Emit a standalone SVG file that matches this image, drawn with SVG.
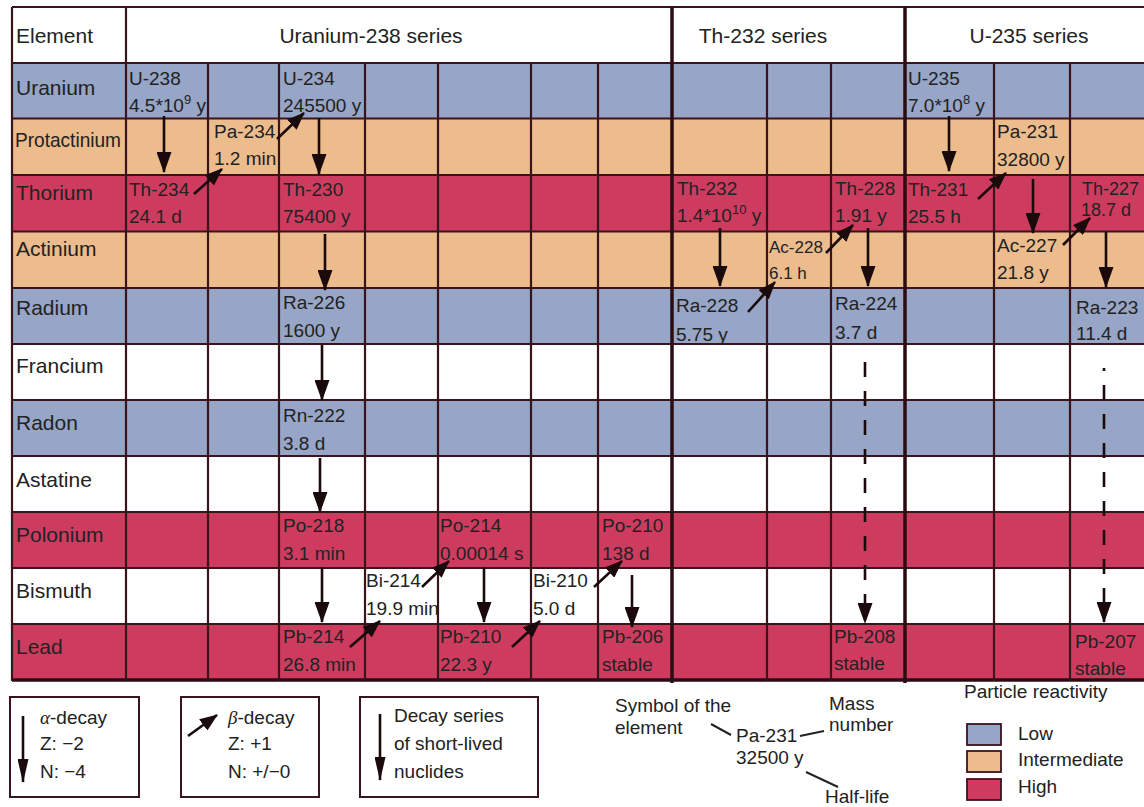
<svg xmlns="http://www.w3.org/2000/svg" width="1144" height="807" viewBox="0 0 1144 807">
<style>
  text { font-family: "Liberation Sans", Arial, sans-serif; fill: #222; }
  .hd { font-size: 21px; }
  .el { font-size: 21px; }
  .nu { font-size: 19px; }
  .sup { font-size: 13px; }
  .lg { font-size: 19px; }
  .gk { font-family: "Liberation Serif", "Times New Roman", serif; font-style: italic; }
  .low { fill: #97a5c6; }
  .mid { fill: #ecbc8c; }
  .high { fill: #cd3c5f; }
  .wh { fill: #ffffff; }
  .grid { stroke: #3a141c; stroke-width: 2.2; fill: none; }
  .thick { stroke: #2a0c12; stroke-width: 3.5; fill: none; }
  .arr { stroke: #1a0a0c; stroke-width: 2.6; fill: none; }
  .dash { stroke-dasharray: 15 14; }
  .box { fill: #fff; stroke: #3a141c; stroke-width: 2; }
  .swl { stroke: #3a141c; stroke-width: 1.8; }
  .cl { stroke: #222; stroke-width: 2; }
</style>
<defs>
  <marker id="ha" markerUnits="userSpaceOnUse" markerWidth="21" markerHeight="15" viewBox="0 0 21 15" refX="20" refY="7.5" orient="auto">
    <path d="M0,0 L21,7.5 L0,15 z" fill="#1a0a0c"/>
  </marker>
  <marker id="hb" markerUnits="userSpaceOnUse" markerWidth="18" markerHeight="14" viewBox="0 0 18 14" refX="17" refY="7" orient="auto">
    <path d="M0,0 L18,7 L0,14 z" fill="#1a0a0c"/>
  </marker>
  <marker id="hl" markerUnits="userSpaceOnUse" markerWidth="24" markerHeight="11" viewBox="0 0 24 11" refX="23" refY="5.5" orient="auto">
    <path d="M0,0 L24,5.5 L0,11 z" fill="#1a0a0c"/>
  </marker>
</defs>

<rect width="1144" height="807" fill="#ffffff"/>

<!-- row backgrounds -->
<g id="rows">
  <rect class="wh" x="12" y="7" width="1132" height="56"/>
  <rect class="low" x="12" y="63" width="1132" height="55.5"/>
  <rect class="mid" x="12" y="118.5" width="1132" height="56.5"/>
  <rect class="high" x="12" y="175" width="1132" height="56.5"/>
  <rect class="mid" x="12" y="231.5" width="1132" height="56.5"/>
  <rect class="low" x="12" y="288" width="1132" height="56"/>
  <rect class="wh" x="12" y="344" width="1132" height="56"/>
  <rect class="low" x="12" y="400" width="1132" height="56"/>
  <rect class="wh" x="12" y="456" width="1132" height="56"/>
  <rect class="high" x="12" y="512" width="1132" height="56"/>
  <rect class="wh" x="12" y="568" width="1132" height="56"/>
  <rect class="high" x="12" y="624" width="1132" height="56"/>
</g>

<!-- grid -->
<g id="grid">
  <path class="grid" d="M12,7 H1144 M12,63 H1144 M12,118.5 H1144 M12,175 H1144 M12,231.5 H1144 M12,288 H1144 M12,344 H1144 M12,400 H1144 M12,456 H1144 M12,512 H1144 M12,568 H1144 M12,624 H1144"/>
  <path class="thick" d="M12,680 H1144"/>
  <path class="grid" d="M12,7 V681 M126,7 V681 M208,63 V681 M279,63 V681 M365,63 V681 M438,63 V681 M531,63 V681 M598,63 V681 M767,63 V681 M831,63 V681 M994,63 V681 M1070,63 V681"/>
  <path class="thick" d="M672,7 V683 M905,7 V683"/>
</g>

<!-- header -->
<g id="header">
  <text class="hd" x="16" y="43">Element</text>
  <text class="hd" x="371" y="43" text-anchor="middle">Uranium-238 series</text>
  <text class="hd" x="763" y="43" text-anchor="middle">Th-232 series</text>
  <text class="hd" x="1029" y="43" text-anchor="middle">U-235 series</text>
</g>

<!-- element labels -->
<g id="elements">
  <text class="el" x="16" y="95">Uranium</text>
  <text class="el" x="15" y="147" textLength="106" lengthAdjust="spacingAndGlyphs">Protactinium</text>
  <text class="el" x="16" y="200">Thorium</text>
  <text class="el" x="16" y="256">Actinium</text>
  <text class="el" x="16" y="315">Radium</text>
  <text class="el" x="16" y="373">Francium</text>
  <text class="el" x="16" y="430">Radon</text>
  <text class="el" x="16" y="487">Astatine</text>
  <text class="el" x="16" y="542">Polonium</text>
  <text class="el" x="16" y="598">Bismuth</text>
  <text class="el" x="16" y="654">Lead</text>
</g>

<!-- nuclides -->
<g id="n-U238"><text class="nu" x="129" y="85">U-238</text><text class="nu" x="129" y="112">4.5*10<tspan class="sup" dy="-8">9</tspan><tspan dy="8"> y</tspan></text></g>
<g id="n-U234"><text class="nu" x="283" y="85">U-234</text><text class="nu" x="283" y="112">245500 y</text></g>
<g id="n-Pa234"><text class="nu" x="214" y="138">Pa-234</text><text class="nu" x="214" y="165">1.2 min</text></g>
<g id="n-Th234"><text class="nu" x="129" y="196">Th-234</text><text class="nu" x="129" y="223">24.1 d</text></g>
<g id="n-Th230"><text class="nu" x="283" y="196">Th-230</text><text class="nu" x="283" y="223">75400 y</text></g>
<g id="n-Ra226"><text class="nu" x="283" y="309">Ra-226</text><text class="nu" x="283" y="337">1600 y</text></g>
<g id="n-Rn222"><text class="nu" x="283" y="422">Rn-222</text><text class="nu" x="283" y="450">3.8 d</text></g>
<g id="n-Po218"><text class="nu" x="283" y="532">Po-218</text><text class="nu" x="283" y="560">3.1 min</text></g>
<g id="n-Po214"><text class="nu" x="440" y="532">Po-214</text><text class="nu" x="440" y="560">0.00014 s</text></g>
<g id="n-Po210"><text class="nu" x="602" y="532">Po-210</text><text class="nu" x="602" y="560">138 d</text></g>
<g id="n-Bi214"><text class="nu" x="366" y="587">Bi-214</text><text class="nu" x="366" y="615">19.9 min</text></g>
<g id="n-Bi210"><text class="nu" x="533" y="587">Bi-210</text><text class="nu" x="533" y="615">5.0 d</text></g>
<g id="n-Pb214"><text class="nu" x="283" y="643">Pb-214</text><text class="nu" x="283" y="671">26.8 min</text></g>
<g id="n-Pb210"><text class="nu" x="440" y="643">Pb-210</text><text class="nu" x="440" y="671">22.3 y</text></g>
<g id="n-Pb206"><text class="nu" x="602" y="643">Pb-206</text><text class="nu" x="602" y="671">stable</text></g>
<g id="n-Th232"><text class="nu" x="677" y="195">Th-232</text><text class="nu" x="677" y="222">1.4*10<tspan class="sup" dy="-8">10</tspan><tspan dy="8"> y</tspan></text></g>
<g id="n-Th228"><text class="nu" x="835" y="195">Th-228</text><text class="nu" x="835" y="222">1.91 y</text></g>
<g id="n-Ac228"><text class="nu" x="769" y="253" style="font-size:17px">Ac-228</text><text class="nu" x="769" y="279" style="font-size:17px">6.1 h</text></g>
<g id="n-Ra228"><text class="nu" x="676" y="312">Ra-228</text><text class="nu" x="676" y="341">5.75 y</text></g>
<g id="n-Ra224"><text class="nu" x="835" y="310">Ra-224</text><text class="nu" x="835" y="339">3.7 d</text></g>
<g id="n-Pb208"><text class="nu" x="834" y="643">Pb-208</text><text class="nu" x="834" y="670">stable</text></g>
<g id="n-U235"><text class="nu" x="908" y="85">U-235</text><text class="nu" x="908" y="112">7.0*10<tspan class="sup" dy="-8">8</tspan><tspan dy="8"> y</tspan></text></g>
<g id="n-Pa231"><text class="nu" x="997" y="138">Pa-231</text><text class="nu" x="997" y="166">32800 y</text></g>
<g id="n-Th231"><text class="nu" x="908" y="196">Th-231</text><text class="nu" x="908" y="223">25.5 h</text></g>
<g id="n-Ac227"><text class="nu" x="997" y="252">Ac-227</text><text class="nu" x="997" y="279">21.8 y</text></g>
<g id="n-Th227"><text class="nu" x="1082" y="195" style="font-size:18px">Th-227</text><text class="nu" x="1081" y="216" style="font-size:18px">18.7 d</text></g>
<g id="n-Ra223"><text class="nu" x="1076" y="314">Ra-223</text><text class="nu" x="1076" y="340">11.4 d</text></g>
<g id="n-Pb207"><text class="nu" x="1075" y="648">Pb-207</text><text class="nu" x="1075" y="675">stable</text></g>

<!-- connectors -->
<g id="connectors">
  <!-- alpha decays -->
  <line class="arr" x1="164" y1="116" x2="164" y2="172" marker-end="url(#ha)"/>
  <line class="arr" x1="319" y1="118" x2="319" y2="174" marker-end="url(#ha)"/>
  <line class="arr" x1="325" y1="234" x2="325" y2="290" marker-end="url(#ha)"/>
  <line class="arr" x1="322" y1="345" x2="322" y2="400" marker-end="url(#ha)"/>
  <line class="arr" x1="320" y1="458" x2="320" y2="512" marker-end="url(#ha)"/>
  <line class="arr" x1="322" y1="567" x2="322" y2="622" marker-end="url(#ha)"/>
  <line class="arr" x1="484" y1="567" x2="484" y2="622" marker-end="url(#ha)"/>
  <line class="arr" x1="632" y1="575" x2="632" y2="627" marker-end="url(#ha)"/>
  <line class="arr" x1="720" y1="228" x2="720" y2="286" marker-end="url(#ha)"/>
  <line class="arr" x1="868" y1="228" x2="868" y2="286" marker-end="url(#ha)"/>
  <line class="arr" x1="949" y1="116" x2="949" y2="171" marker-end="url(#ha)"/>
  <line class="arr" x1="1033" y1="179" x2="1033" y2="233" marker-end="url(#ha)"/>
  <line class="arr" x1="1106" y1="232" x2="1106" y2="287" marker-end="url(#ha)"/>
  <!-- beta decays -->
  <line class="arr" x1="194" y1="194" x2="222" y2="169" marker-end="url(#hb)"/>
  <line class="arr" x1="277" y1="139" x2="304" y2="113" marker-end="url(#hb)"/>
  <line class="arr" x1="350" y1="647" x2="380" y2="621" marker-end="url(#hb)"/>
  <line class="arr" x1="422" y1="587" x2="449" y2="561" marker-end="url(#hb)"/>
  <line class="arr" x1="512" y1="647" x2="540" y2="621" marker-end="url(#hb)"/>
  <line class="arr" x1="594" y1="587" x2="622" y2="561" marker-end="url(#hb)"/>
  <line class="arr" x1="748" y1="312" x2="775" y2="282" marker-end="url(#hb)"/>
  <line class="arr" x1="826" y1="253" x2="853" y2="225" marker-end="url(#hb)"/>
  <line class="arr" x1="978" y1="199" x2="1006" y2="173" marker-end="url(#hb)"/>
  <line class="arr" x1="1063" y1="245" x2="1090" y2="218" marker-end="url(#hb)"/>
  <!-- short-lived series -->
  <line class="arr dash" x1="865" y1="362" x2="865" y2="623" marker-end="url(#ha)"/>
  <line class="arr dash" x1="1104" y1="368" x2="1104" y2="622" stroke-dashoffset="12" marker-end="url(#ha)"/>
</g>

<!-- legend boxes -->
<g id="legend-alpha">
  <rect class="box" x="10" y="697" width="129" height="100"/>
  <line class="arr" x1="23" y1="716" x2="23" y2="782" marker-end="url(#hl)"/>
  <text class="lg" x="40" y="724"><tspan class="gk">α</tspan>-decay</text>
  <text class="lg" x="40" y="750">Z: −2</text>
  <text class="lg" x="40" y="778">N: −4</text>
</g>
<g id="legend-beta">
  <rect class="box" x="181" y="697" width="138" height="100"/>
  <line class="arr" x1="188" y1="736" x2="217" y2="715" marker-end="url(#hb)"/>
  <text class="lg" x="228" y="724"><tspan class="gk">β</tspan>-decay</text>
  <text class="lg" x="228" y="750">Z: +1</text>
  <text class="lg" x="228" y="778">N: +/−0</text>
</g>
<g id="legend-series">
  <rect class="box" x="360" y="697" width="178" height="100"/>
  <line class="arr" x1="380" y1="714" x2="380" y2="780" marker-end="url(#hl)"/>
  <text class="lg" x="394" y="722">Decay series</text>
  <text class="lg" x="394" y="750">of short-lived</text>
  <text class="lg" x="394" y="778">nuclides</text>
</g>

<!-- symbol key -->
<g id="legend-symbol">
  <text class="lg" x="615" y="712">Symbol of the</text>
  <text class="lg" x="615" y="734">element</text>
  <text class="lg" x="736" y="742">Pa-231</text>
  <text class="lg" x="736" y="764">32500 y</text>
  <text class="lg" x="829" y="710">Mass</text>
  <text class="lg" x="829" y="731">number</text>
  <text class="lg" x="825" y="803">Half-life</text>
  <line class="cl" x1="711" y1="724" x2="731" y2="735"/>
  <line class="cl" x1="800" y1="736" x2="824" y2="731"/>
  <line class="cl" x1="806" y1="772" x2="838" y2="787"/>
</g>

<!-- reactivity key -->
<g id="legend-reactivity">
  <text class="lg" x="964" y="698">Particle reactivity</text>
  <rect class="low swl" x="967" y="724" width="34" height="21"/>
  <text class="lg" x="1018" y="740">Low</text>
  <rect class="mid swl" x="967" y="751" width="34" height="21"/>
  <text class="lg" x="1018" y="766">Intermediate</text>
  <rect class="high swl" x="967" y="779" width="34" height="21"/>
  <text class="lg" x="1018" y="793">High</text>
</g>
</svg>
